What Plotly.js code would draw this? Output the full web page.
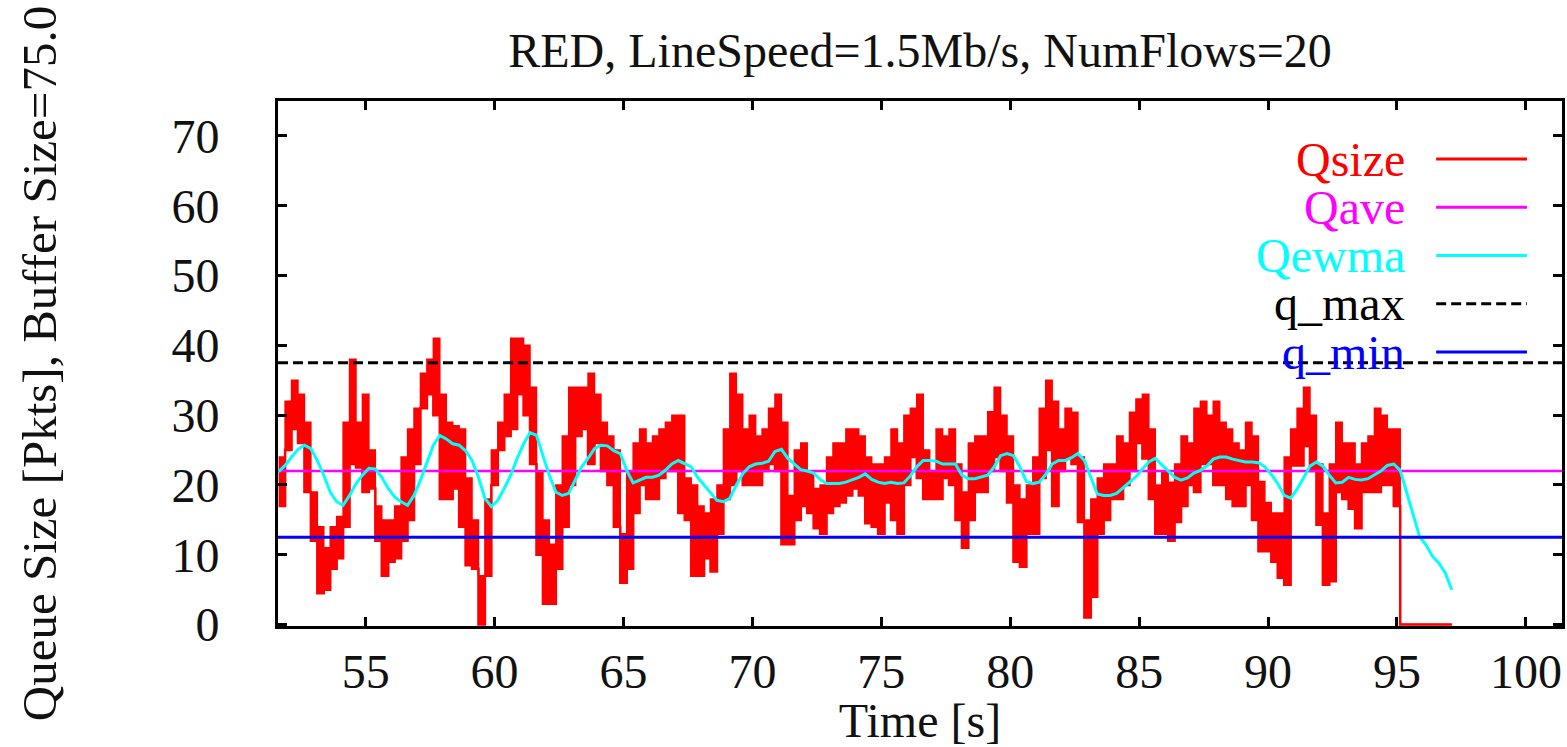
<!DOCTYPE html>
<html>
<head>
<meta charset="utf-8">
<script src="https://cdn.plot.ly/plotly-3.0.1.min.js"></script>
<style>html,body{margin:0;padding:0;background:#fff;}#chart{width:1567px;height:747px;}</style>
</head>
<body>
<div id="chart"></div>
<script>
// ---- data (time grid: 0.25 s steps starting at 51.625 s) ----
const timeStart = 51.625;
const timeStep = 0.25;

// Qsize envelope per 0.25 s step (max / min of the instantaneous queue)
const qsizeHi = [
24,32,35,33,29,19,14,11,14,15.5, 29,38,29,33,25,17,15,15,17,24,
28,31,36,38,41,33,29,28.5,28,21, 15,7,18,25,29,33,41,41,40,34,
22,15,11.5,20,27,34,34,34,36,33, 29,27,25,13,22,26,28,26,27,28,
29,30,30,21,20,17,16,18,20,28, 36,33,28,30,27,28,31,33,29,18.5,
25,26,22,19.5,20,24,26,26,28,28, 27,24,23,23,24,28,26,30,31,33,
25,22,28,27,28,23,19,26,27,27, 30.5,34,30,27,20,18,20,24,31,35,
32,28,31,30.4,24,15,18,21,23,23, 27,26,30.4,32.3,33,28,20,22,20.4,23,
27,26,31,32,30,32,29,28,26,25, 29,27,20.5,17.5,16,16,24,28,31,34,
30,23,16,23,29,26,26,23,26,27, 31,30,28,28,0,0,0,0,0,0,
0,0,0];
const qsizeLo = [
17,25,28,26,19,12,4.5,5,8,9.5, 14,23,22.5,19,19.5,12,7,9,9.5,12,
15,23,31,33,30,18,18,19.5,14,8.5, 8,0,7,20,25,27,28,33,30,23,
10,3,3,8,14,20,27,28,23,26, 22,20,14,6,8,16,20,18,18,21,
22,22,16,15,7,7,9.5,7.6,13,18, 20,22,20,20,20,22,23,22,11.5,11.5,
15,17,16,13.8,13,16,17,17.5,18.5,19.5, 18.5,14.5,14,13,17.5,15,13,20,24,21,
18,18,18,21,20,15,11,15,19,19, 22,24,22,17.5,9,8.3,13,13,21,25,
17,22,24,23,14.7,1,4,13,15,18, 18,20,22,26,23.8,18,13,13,12,14.7,
17,20,19,23,23,20,20,18,17,17, 20,15,10.5,10.5,9,6.7,5.7,22.8,22.8,25.6,
22,14.3,5.7,6.2,19,18,16.6,13.8,19,19, 19,20,20,17,0,0,0,0,0,0,
0,0,0];

// Qewma (smoothed queue) at the same time steps
const qewma = [
21.9,22.8,24,25.1,25.7,25.2,23.5,21.4,19,17.6, 17.1,18.5,20.2,21.4,22.4,22.3,21.1,19.5,18.3,17.6,
17.1,18.5,20.7,23.3,25.7,27.1,26.6,25.9,25.7,24.9, 23.5,21.1,18.1,16.9,17.8,19.5,21.4,23.8,25.9,27.5,
27.1,24.2,21.4,19,18.5,18.8,20.7,22.6,23.8,25.2, 25.7,25.6,24.9,24.5,22.1,20.3,20.7,21.1,21.1,21.4,
22.1,23,23.5,23,22.6,21.1,20,18.8,17.8,17.6, 18.1,20,21.6,22.6,23,23.1,23.4,24.8,25.1,23.8,
23,22.2,22,21.7,20.8,20.2,20.2,20.2,20.4,20.7, 21.1,21.6,20.8,20.4,20.2,20.4,20.2,20.3,21.3,22.6,
23.5,23.5,23.4,23,23,23,21.4,20.9,20.9,21.1, 21.4,22.6,24.2,24.5,24.2,22.6,20.5,20.2,20.4,21.5,
23,23.5,23.5,23.9,24.5,23.5,21.1,18.7,18.5,18.5, 18.8,19.6,20.4,21.2,22.3,23.3,23.8,22.9,22,21.1,
20.7,21,21.7,22.1,22.7,23.7,24,24,23.7,23.5, 23.3,23.3,23.2,22.6,21.5,20.2,18.5,18.1,19.4,21,
22.7,23.3,22.7,21.4,20.3,20.4,21.1,20.8,20.7,20.9, 21.4,22,22.8,23,22.1,18.8,15.5,12.6,11.4,9.8,
8.8,7.4,5.0];

// Constant reference levels
const qAve = 22;
const qMax = 37.5;
const qMin = 12.5;

// Axes
const xRange = [51.6, 101.4];
const yRange = [-0.2, 75];
const xTickVals = [55, 60, 65, 70, 75, 80, 85, 90, 95, 100];
const yTickVals = [0, 10, 20, 30, 40, 50, 60, 70];

const titleText = 'RED, LineSpeed=1.5Mb/s, NumFlows=20';
const xTitle = 'Time [s]';
const yTitle = 'Queue Size [Pkts], Buffer Size=75.0';

const legendNames = ['Qsize', 'Qave', 'Qewma', 'q_max', 'q_min'];
const legendColors = ['#ff0000', '#ff00ff', '#00ffff', '#000000', '#0000ff'];
const legendDash = ['solid', 'solid', 'solid', '10px,5px', 'solid'];

// ---- build traces ----
const times = qewma.map((_, i) => timeStart + i * timeStep);
const FONT = 'Liberation Serif, Times New Roman, serif';

const traces = [
  { x: times, y: qsizeLo, mode: 'lines', line: { color: '#ff0000', width: 2.5, shape: 'hv' }, showlegend: false, hoverinfo: 'skip' },
  { x: times, y: qsizeHi, mode: 'lines', line: { color: '#ff0000', width: 1.5, shape: 'hv' }, fill: 'tonexty', fillcolor: '#ff0000', name: 'Qsize', showlegend: false },
  { x: xRange, y: [qAve, qAve], mode: 'lines', line: { color: '#ff00ff', width: 2.7 }, name: 'Qave', showlegend: false },
  { x: times, y: qewma, mode: 'lines', line: { color: '#00ffff', width: 3 }, name: 'Qewma', showlegend: false },
  { x: xRange, y: [qMax, qMax], mode: 'lines', line: { color: '#000000', width: 3, dash: '10px,5px' }, name: 'q_max', showlegend: false },
  { x: xRange, y: [qMin, qMin], mode: 'lines', line: { color: '#0000ff', width: 3 }, name: 'q_min', showlegend: false }
];

// ---- gnuplot-style legend (text right-aligned, sample on the right) ----
const legTextX = 0.879, legSampleX0 = 0.902, legSampleX1 = 0.9727;
const legY0 = 0.8895, legDY = 0.0919;
const annotations = [], shapes = [];
legendNames.forEach((n, i) => {
  const y = legY0 - i * legDY;
  annotations.push({ xref: 'paper', yref: 'paper', x: legTextX, y: y, xanchor: 'right', yanchor: 'middle',
    text: n, showarrow: false, font: { family: FONT, size: 48, color: legendColors[i] } });
  shapes.push({ type: 'line', xref: 'paper', yref: 'paper', x0: legSampleX0, x1: legSampleX1, y0: y, y1: y,
    line: { color: legendColors[i], width: 3, dash: legendDash[i] } });
});

const axisCommon = {
  showline: true, linecolor: '#000', linewidth: 3, mirror: 'ticks',
  ticks: 'inside', ticklen: 9, tickwidth: 3, tickcolor: '#000',
  showgrid: false, zeroline: false,
  tickfont: { family: FONT, size: 48, color: '#111' }
};

const layout = {
  width: 1567, height: 747,
  margin: { l: 278, r: 5, t: 101, b: 121 },
  paper_bgcolor: '#fff', plot_bgcolor: '#fff',
  showlegend: false,
  title: { text: titleText, x: 0.5, xref: 'paper', xanchor: 'center', y: 0.933, yref: 'container', yanchor: 'middle',
    font: { family: FONT, size: 48, color: '#111' } },
  xaxis: Object.assign({}, axisCommon, {
    range: xRange, tickmode: 'array', tickvals: xTickVals, ticklabelstandoff: 1,
    title: { text: xTitle, standoff: 6, font: { family: FONT, size: 48, color: '#111' } }
  }),
  yaxis: Object.assign({}, axisCommon, {
    range: yRange, tickmode: 'array', tickvals: yTickVals, ticklabelstandoff: 46,
    title: { text: yTitle, standoff: 100, font: { family: FONT, size: 49, color: '#111' } }
  }),
  annotations: annotations,
  shapes: shapes
};

Plotly.newPlot('chart', traces, layout, { staticPlot: true, displayModeBar: false });
</script>
</body>
</html>
